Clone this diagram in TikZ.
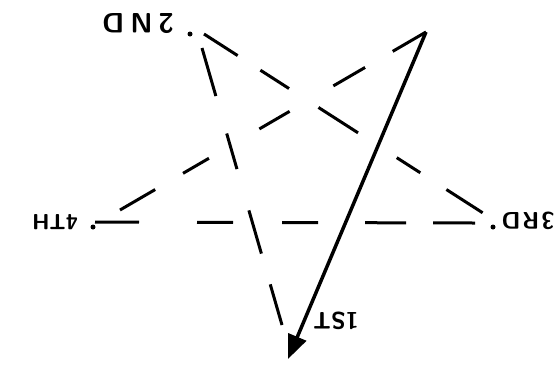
\documentclass[tikz,border=0pt]{standalone}
\usetikzlibrary{arrows.meta}
\begin{document}
\begin{tikzpicture}[x=1pt,y=-1pt,
  stroke/.style={line width=3pt},
  lbl/.style={rotate=180, font=\sffamily\bfseries\fontsize{28}{28}\selectfont, inner sep=0pt},
  dotmark/.style={circle, fill=black, inner sep=0pt, minimum size=5pt}]
\useasboundingbox (0,0) rectangle (559,365);
% end points of the hand-drawn lines
\coordinate (top) at (426,32);
\coordinate (bot) at (288,359);
\coordinate (aS) at (204,34);  \coordinate (aE) at (483,213);
\coordinate (bS) at (202,48);  \coordinate (bE) at (282,325);
\coordinate (cE) at (120,210);
\coordinate (hS) at (95,222);  \coordinate (hE) at (475,223);
% dots
\node[dotmark] (d2) at (190,34) {};
\node[dotmark] (d4) at (93,227) {};
\node[dotmark] (d3) at (493,227) {};
% labels (upside down)
\node[lbl] (l2) at (138,24) {2\hspace{6pt}N\hspace{6pt}D};
\node[lbl, font=\sffamily\bfseries\fontsize{22}{22}\selectfont] (l4) at (55,222) {4TH};
\node[lbl, font=\sffamily\bfseries\fontsize{24}{24}\selectfont] (l3) at (528,221) {3\hspace{2pt}R\hspace{2pt}D};
\node[lbl, font=\sffamily\bfseries\fontsize{24}{24}\selectfont] (l1) at (336,321) {1ST};
% dashed lines
\draw[stroke, dash pattern=on 40pt off 27pt on 34pt off 35pt on 47pt off 46pt on 28pt off 31pt on 43pt off 60pt] (aS) -- (aE);
\draw[stroke, dash pattern=on 50pt off 39pt on 37pt off 43pt on 45pt off 32pt on 43pt off 60pt] (bS) -- (bE);
\draw[stroke, dash pattern=on 38.5pt off 32pt on 36.7pt off 50.6pt on 35pt off 58.3pt on 30pt off 32.2pt on 40.8pt off 60pt] (top) -- (cE);
\draw[stroke, dash pattern=on 44pt off 58pt on 36pt off 49pt on 36pt off 47pt on 41pt off 27pt on 42pt off 60pt] (hS) -- (hE);
% solid arrow
\draw[line width=3.5pt, -{Triangle[length=24pt, width=19pt]}] (top) -- (bot);
\end{tikzpicture}
\end{document}
